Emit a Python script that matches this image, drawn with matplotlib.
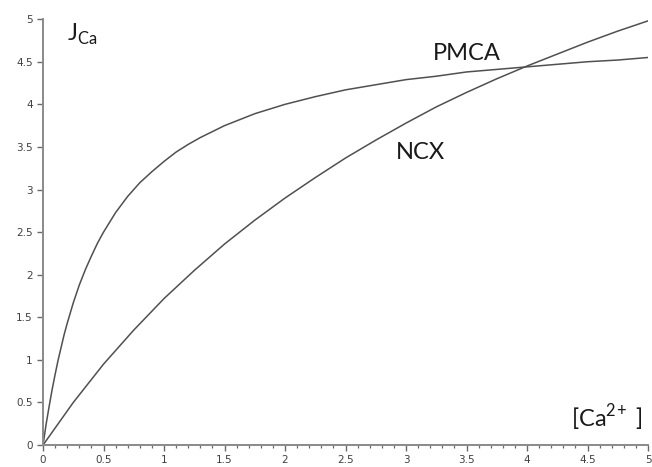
import matplotlib
matplotlib.use("Agg")
import matplotlib.pyplot as plt
from matplotlib.ticker import MultipleLocator

# calcium concentration and transport flux for the two pumps
ca_pmca = [0, 0.025, 0.05, 0.075, 0.1, 0.125, 0.15, 0.175, 0.2, 0.25, 0.3, 0.35, 0.4,
           0.45, 0.5, 0.6, 0.7, 0.8, 0.9, 1.0, 1.1, 1.2, 1.3, 1.4, 1.5, 1.75, 2.0,
           2.25, 2.5, 2.75, 3.0, 3.25, 3.5, 3.75, 4.0, 4.25, 4.5, 4.75, 5.0]
j_pmca = [0, 0.24, 0.45, 0.65, 0.83, 1.0, 1.15, 1.3, 1.43, 1.67, 1.88, 2.06, 2.22,
          2.37, 2.5, 2.73, 2.92, 3.08, 3.21, 3.33, 3.44, 3.53, 3.61, 3.68, 3.75, 3.89, 4.0,
          4.09, 4.17, 4.23, 4.29, 4.33, 4.38, 4.41, 4.44, 4.47, 4.5, 4.52, 4.55]

ca_ncx = [0, 0.25, 0.5, 0.75, 1.0, 1.25, 1.5, 1.75, 2.0, 2.25, 2.5, 2.75, 3.0, 3.25,
          3.5, 3.75, 4.0, 4.25, 4.5, 4.75, 5.0]
j_ncx = [0, 0.5, 0.95, 1.35, 1.72, 2.05, 2.36, 2.64, 2.9, 3.14, 3.37, 3.58, 3.78, 3.97,
         4.14, 4.3, 4.45, 4.59, 4.73, 4.86, 4.98]

plt.rcParams['mathtext.fontset'] = 'custom'
plt.rcParams['mathtext.rm'] = 'Lato'

fig = plt.figure(figsize=(6.52, 4.67), dpi=100)
ax = fig.add_axes([0.066, 0.047, 0.928, 0.912])

line_col = '#505050'
ax.plot(ca_pmca, j_pmca, color=line_col, lw=1.1)
ax.plot(ca_ncx, j_ncx, color=line_col, lw=1.1)

ax.set_xlim(0, 5)
ax.set_ylim(0, 5)
for side in ('top', 'right'):
    ax.spines[side].set_visible(False)
for side in ('left', 'bottom'):
    ax.spines[side].set_color('#8a8a8a')
    ax.spines[side].set_linewidth(1.4)

ax.xaxis.set_major_locator(MultipleLocator(0.5))
ax.xaxis.set_minor_locator(MultipleLocator(0.1))
ax.yaxis.set_major_locator(MultipleLocator(0.5))
ax.set_xticklabels([], minor=True)
ax.xaxis.set_major_formatter(lambda v, p: f'{v:g}')
ax.yaxis.set_major_formatter(lambda v, p: f'{v:g}')
ax.tick_params(axis='both', which='major', length=4.5, width=1.0, color='#6a6a6a',
               labelsize=7.5, labelcolor='#404040', pad=3)
ax.tick_params(axis='x', which='minor', length=2.5, width=0.9, color='#6a6a6a')

font = dict(family='Lato', color='#1a1a1a', fontsize=17)
ax.text(0.2, 4.82, r'J$_{\rm Ca}$', ha='left', va='center', **font)
ax.text(3.5, 4.6, 'PMCA', ha='center', va='center', **font)
ax.text(3.12, 3.43, 'NCX', ha='center', va='center', **font)
ax.text(4.66, 0.32, r'[Ca$^{2\!+}$ ]', ha='center', va='center', **font)

fig.savefig('out.png', dpi=100)
